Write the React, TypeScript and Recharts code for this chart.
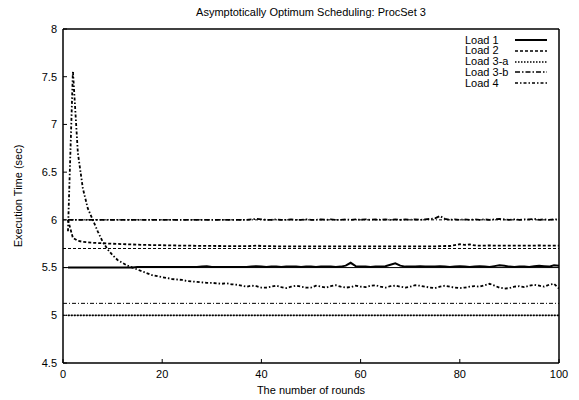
import { LineChart, Line, XAxis, YAxis, Legend, ReferenceLine, Label } from 'recharts';

const rounds = [
  1, 2, 3, 4, 5, 6, 7, 8, 9, 10, 11, 12, 13, 14, 15, 16, 17, 18, 19, 20,
  21, 22, 23, 24, 25, 26, 27, 28, 29, 30, 31, 32, 33, 34, 35, 36, 37, 38, 39, 40,
  41, 42, 43, 44, 45, 46, 47, 48, 49, 50, 51, 52, 53, 54, 55, 56, 57, 58, 59, 60,
  61, 62, 63, 64, 65, 66, 67, 68, 69, 70, 71, 72, 73, 74, 75, 76, 77, 78, 79, 80,
  81, 82, 83, 84, 85, 86, 87, 88, 89, 90, 91, 92, 93, 94, 95, 96, 97, 98, 99, 100,
];

const load1 = [
  5.5, 5.5, 5.5, 5.5, 5.5, 5.5, 5.5, 5.5, 5.5, 5.5,
  5.5, 5.5, 5.5, 5.5, 5.505, 5.505, 5.505, 5.505, 5.505, 5.505,
  5.505, 5.505, 5.505, 5.505, 5.505, 5.505, 5.505, 5.51, 5.515, 5.505,
  5.505, 5.505, 5.505, 5.505, 5.505, 5.505, 5.505, 5.51, 5.515, 5.51,
  5.505, 5.51, 5.51, 5.505, 5.51, 5.51, 5.51, 5.505, 5.51, 5.51,
  5.505, 5.51, 5.51, 5.51, 5.505, 5.51, 5.52, 5.55, 5.515, 5.51,
  5.51, 5.505, 5.51, 5.51, 5.515, 5.53, 5.545, 5.52, 5.51, 5.51,
  5.51, 5.515, 5.51, 5.51, 5.51, 5.515, 5.51, 5.505, 5.51, 5.515,
  5.51, 5.505, 5.51, 5.515, 5.51, 5.505, 5.515, 5.525, 5.52, 5.51,
  5.505, 5.51, 5.51, 5.505, 5.515, 5.52, 5.515, 5.51, 5.525, 5.52,
];

const load2 = [
  6.0, 5.81, 5.78, 5.77, 5.765, 5.76, 5.757, 5.755, 5.752, 5.75,
  5.748, 5.746, 5.744, 5.742, 5.74, 5.738, 5.737, 5.736, 5.735, 5.734,
  5.733, 5.732, 5.731, 5.73, 5.73, 5.729, 5.728, 5.728, 5.727, 5.727,
  5.726, 5.726, 5.725, 5.725, 5.725, 5.724, 5.724, 5.726, 5.73, 5.726,
  5.724, 5.724, 5.723, 5.723, 5.723, 5.722, 5.722, 5.722, 5.722, 5.722,
  5.722, 5.722, 5.722, 5.722, 5.722, 5.722, 5.722, 5.722, 5.722, 5.722,
  5.722, 5.722, 5.722, 5.722, 5.722, 5.722, 5.722, 5.722, 5.722, 5.722,
  5.722, 5.722, 5.722, 5.722, 5.722, 5.724, 5.726, 5.726, 5.735, 5.745,
  5.738, 5.742, 5.732, 5.73, 5.73, 5.732, 5.73, 5.73, 5.73, 5.73,
  5.73, 5.73, 5.73, 5.73, 5.73, 5.732, 5.73, 5.73, 5.73, 5.73,
];

const load3a = [
  5.0, 5.0, 5.0, 5.0, 5.0, 5.0, 5.0, 5.0, 5.0, 5.0,
  5.0, 5.0, 5.0, 5.0, 5.0, 5.0, 5.0, 5.0, 5.0, 5.0,
  5.0, 5.0, 5.0, 5.0, 5.0, 5.0, 5.0, 5.0, 5.0, 5.0,
  5.0, 5.0, 5.0, 5.0, 5.0, 5.0, 5.0, 5.0, 5.0, 5.0,
  5.0, 5.0, 5.0, 5.0, 5.0, 5.0, 5.0, 5.0, 5.0, 5.0,
  5.0, 5.0, 5.0, 5.0, 5.0, 5.0, 5.0, 5.0, 5.0, 5.0,
  5.0, 5.0, 5.0, 5.0, 5.0, 5.0, 5.0, 5.0, 5.0, 5.0,
  5.0, 5.0, 5.0, 5.0, 5.0, 5.0, 5.0, 5.0, 5.0, 5.0,
  5.0, 5.0, 5.0, 5.0, 5.0, 5.0, 5.0, 5.0, 5.0, 5.0,
  5.0, 5.0, 5.0, 5.0, 5.0, 5.0, 5.0, 5.0, 5.0, 5.0,
];

const load3b = [
  6.0, 6.0, 6.0, 6.0, 6.0, 6.0, 6.0, 6.0, 6.0, 6.0,
  6.0, 6.0, 6.0, 6.0, 6.0, 6.0, 6.0, 6.0, 6.0, 6.0,
  6.0, 6.0, 6.0, 6.0, 6.0, 6.0, 6.0, 6.0, 6.0, 6.0,
  6.0, 6.0, 6.0, 6.0, 6.0, 6.0, 6.0, 6.005, 6.01, 6.005,
  6.0, 6.0, 6.005, 6.0, 6.0, 6.005, 6.0, 6.0, 6.005, 6.0,
  6.0, 6.005, 6.0, 6.005, 6.0, 6.0, 6.005, 6.0, 6.005, 6.0,
  6.005, 6.0, 6.005, 6.0, 6.005, 6.0, 6.005, 6.0, 6.005, 6.0,
  6.005, 6.0, 6.005, 6.01, 6.015, 6.04, 6.01, 6.0, 6.005, 6.0,
  6.005, 6.0, 6.005, 6.0, 6.005, 6.0, 6.005, 6.01, 6.005, 6.0,
  6.005, 6.0, 6.005, 6.005, 6.01, 6.0, 6.005, 6.0, 6.005, 6.005,
];

const load4 = [
  5.88, 7.56, 6.7, 6.33, 6.12, 6.0, 5.88, 5.77, 5.69, 5.63,
  5.58, 5.55, 5.52, 5.5, 5.48, 5.46, 5.44, 5.42, 5.41, 5.4,
  5.39, 5.38, 5.375, 5.37, 5.36, 5.355, 5.35, 5.345, 5.34, 5.34,
  5.335, 5.33, 5.335, 5.325, 5.32, 5.31, 5.3, 5.31, 5.305, 5.29,
  5.29, 5.3, 5.31, 5.295, 5.285, 5.3, 5.31, 5.3, 5.29, 5.29,
  5.31, 5.3, 5.29, 5.305, 5.315, 5.3, 5.29, 5.295, 5.31, 5.3,
  5.295, 5.31, 5.315, 5.3, 5.29, 5.305, 5.31, 5.3, 5.29, 5.3,
  5.315, 5.31, 5.3, 5.29, 5.285, 5.3, 5.31, 5.3, 5.29, 5.285,
  5.29, 5.3, 5.305, 5.3, 5.315, 5.33, 5.31, 5.29, 5.28, 5.285,
  5.3, 5.305, 5.295, 5.31, 5.32, 5.31, 5.3, 5.32, 5.33, 5.28,
];

// asymptotic optimum levels drawn as thin lines
const optimumLevels = [6.0, 5.7, 5.5, 5.125, 5.0];

const xTicks = [0, 20, 40, 60, 80, 100];
const yTicks = [4.5, 5, 5.5, 6, 6.5, 7, 7.5, 8];

const seriesNames = ['Load 1', 'Load 2', 'Load 3-a', 'Load 3-b', 'Load 4'];
const seriesKeys = ['load1', 'load2', 'load3a', 'load3b', 'load4'];
const seriesValues = [load1, load2, load3a, load3b, load4];

const dashes = ['', '3 2', '1.5 1.5', '5 2 1.5 2', '3 2 1.5 2'];
const optimumDashes = ['3 2 1 2', '3 2', '', '4 2 1 2', '1.5 1.5'];

const data = rounds.map((r, i) => {
  const row: Record<string, number> = { round: r };
  seriesKeys.forEach((k, j) => {
    row[k] = seriesValues[j][i];
  });
  return row;
});

const FONT = '"Liberation Sans", Arial, Helvetica, sans-serif';

const LegendBox = () => (
  <div style={{ fontFamily: FONT, fontSize: 11, color: '#000' }}>
    {seriesNames.map((name, i) => (
      <div key={name} style={{ display: 'flex', alignItems: 'center', height: 10.8 }}>
        <span style={{ width: 50, lineHeight: '10.8px' }}>{name}</span>
        <svg width={33} height={6}>
          <line x1={0} x2={32} y1={3} y2={3} stroke="#000" strokeWidth={i === 0 ? 2 : 1.6} strokeDasharray={dashes[i]} />
        </svg>
      </div>
    ))}
  </div>
);

const App = () => {
  const tickStyle = { fill: '#000', fontSize: 11, fontFamily: FONT };
  return (
    <div style={{ position: 'absolute', left: 0, top: 0, width: 579, height: 400, background: '#fff', fontFamily: FONT }}>
      <div
        style={{
          position: 'absolute',
          top: 6,
          left: 63,
          width: 496,
          textAlign: 'center',
          fontSize: 11,
          color: '#000',
        }}
      >
        Asymptotically Optimum Scheduling: ProcSet 3
      </div>
      <LineChart width={579} height={400} data={data} margin={{ top: 28, right: 19, bottom: 17, left: 0 }}>
        <XAxis
          dataKey="round"
          type="number"
          domain={[0, 100]}
          ticks={xTicks}
          allowDataOverflow
          height={20}
          tickSize={-4}
          tickMargin={11.5}
          tick={tickStyle}
          stroke="#000"
          axisLine={{ stroke: '#000', strokeWidth: 1.5 }}
          tickLine={{ stroke: '#000' }}
        >
          <Label value="The number of rounds" position="bottom" offset={3} style={{ fontSize: 11, fill: '#000', fontFamily: FONT }} />
        </XAxis>
        <XAxis
          xAxisId="top"
          orientation="top"
          type="number"
          domain={[0, 100]}
          ticks={xTicks}
          allowDataOverflow
          height={1}
          tickSize={-4}
          tick={false}
          axisLine={{ stroke: '#000', strokeWidth: 1.5 }}
          tickLine={{ stroke: '#000' }}
        />
        <YAxis
          type="number"
          domain={[4.5, 8]}
          ticks={yTicks}
          allowDataOverflow
          width={63}
          tickSize={-4}
          tickMargin={10}
          tick={tickStyle}
          axisLine={{ stroke: '#000', strokeWidth: 1.5 }}
          tickLine={{ stroke: '#000' }}
        >
          <Label
            value="Execution Time (sec)"
            angle={-90}
            position="insideLeft"
            offset={18}
            style={{ textAnchor: 'middle', fontSize: 11, fill: '#000', fontFamily: FONT }}
          />
        </YAxis>
        <YAxis
          yAxisId="right"
          orientation="right"
          type="number"
          domain={[4.5, 8]}
          ticks={yTicks}
          allowDataOverflow
          width={1}
          tickSize={-4}
          tick={false}
          axisLine={{ stroke: '#000', strokeWidth: 1.5 }}
          tickLine={{ stroke: '#000' }}
        />
        {optimumLevels.map((v, i) => (
          <ReferenceLine key={v} y={v} stroke="#000" strokeWidth={1} strokeDasharray={optimumDashes[i]} ifOverflow="hidden" />
        ))}
        {seriesKeys.map((k, i) => (
          <Line
            key={k}
            dataKey={k}
            name={seriesNames[i]}
            type="linear"
            stroke="#000"
            strokeWidth={i === 0 ? 2 : 1.8}
            strokeDasharray={dashes[i]}
            dot={false}
            isAnimationActive={false}
          />
        ))}
        <Legend
          layout="vertical"
          align="center"
          verticalAlign="middle"
          content={() => <LegendBox />}
          wrapperStyle={{ top: 34.6, left: 465, width: 90 }}
        />
      </LineChart>
    </div>
  );
};

export default App;
